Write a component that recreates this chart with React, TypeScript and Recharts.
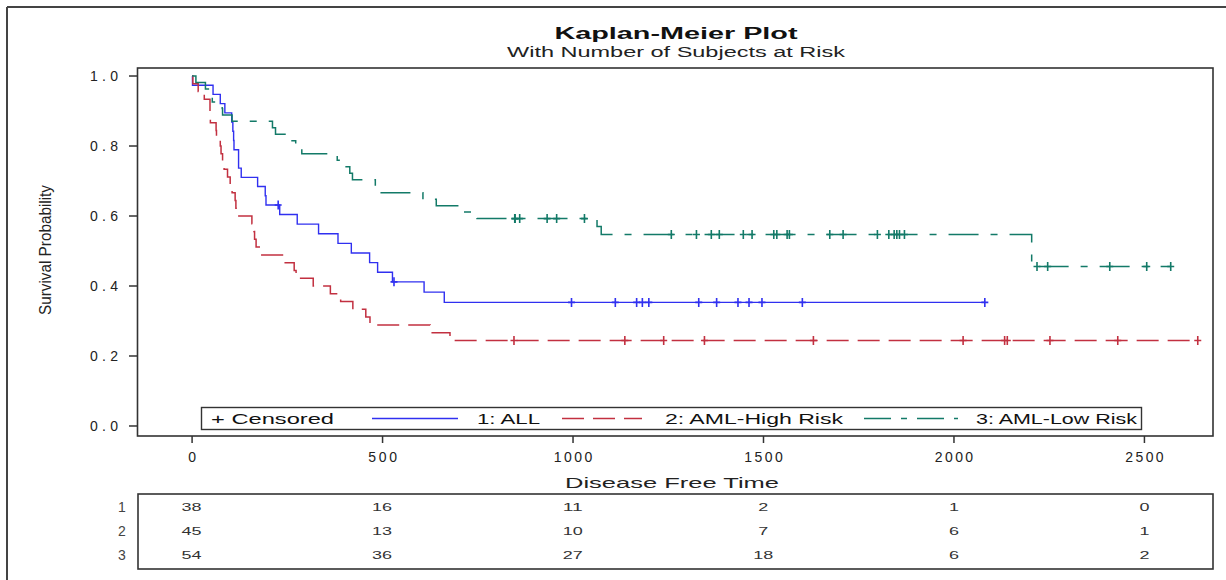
import React from 'react';
import { ComposedChart, Line, Scatter, XAxis, YAxis } from 'recharts';

// product-limit estimates, one step per event time
const allTimes = [0, 1, 55, 74, 86, 104, 107, 109, 110, 122, 129, 172, 192, 194, 230, 276, 332, 383, 418, 466, 487, 526, 609, 662, 2081];
const allSurv = [1, 0.9737, 0.9474, 0.9211, 0.8947, 0.8684, 0.8421, 0.8158, 0.7895, 0.7368, 0.7105, 0.6842, 0.6579, 0.6316, 0.6041, 0.5767, 0.5492, 0.5217, 0.4943, 0.4668, 0.4394, 0.4119, 0.3825, 0.3531, 0.3531];

const highTimes = [0, 2, 16, 32, 47, 48, 63, 64, 74, 76, 80, 84, 93, 100, 105, 113, 115, 120, 157, 162, 164, 168, 183, 242, 268, 273, 318, 363, 390, 422, 456, 467, 625, 677, 2640];
const highSurv = [1, 0.9778, 0.9556, 0.9333, 0.8889, 0.8667, 0.8444, 0.8222, 0.8, 0.7778, 0.7556, 0.7333, 0.7111, 0.6889, 0.6667, 0.6444, 0.6222, 0.6, 0.5778, 0.5556, 0.5333, 0.5111, 0.4889, 0.4667, 0.4444, 0.4222, 0.4, 0.3778, 0.3556, 0.3333, 0.3111, 0.2889, 0.2667, 0.2444, 0.2444];

const lowTimes = [0, 10, 35, 48, 53, 79, 80, 105, 211, 219, 248, 272, 288, 381, 390, 414, 421, 481, 486, 606, 641, 704, 748, 1063, 1074, 2204, 2569];
const lowSurv = [1, 0.9815, 0.963, 0.9444, 0.9259, 0.9074, 0.8889, 0.8704, 0.8519, 0.8333, 0.8148, 0.7963, 0.7778, 0.7593, 0.7407, 0.7222, 0.7037, 0.6852, 0.6667, 0.6481, 0.6296, 0.6111, 0.5926, 0.5698, 0.547, 0.4558, 0.4558];

// censored observations
const allCensT = [226, 530, 996, 1111, 1167, 1182, 1199, 1330, 1377, 1433, 1462, 1496, 1602, 2081];
const allCensS = [0.6316, 0.4119, 0.3531, 0.3531, 0.3531, 0.3531, 0.3531, 0.3531, 0.3531, 0.3531, 0.3531, 0.3531, 0.3531, 0.3531];
const highCensT = [845, 1136, 1238, 1345, 1631, 2024, 2133, 2140, 2252, 2430, 2640];
const highCensS = [0.2444, 0.2444, 0.2444, 0.2444, 0.2444, 0.2444, 0.2444, 0.2444, 0.2444, 0.2444, 0.2444];
const lowCensT = [847, 848, 860, 932, 957, 1030, 1258, 1324, 1363, 1384, 1447, 1470, 1527, 1535, 1562, 1568, 1674, 1709, 1799, 1829, 1843, 1850, 1857, 1870, 2218, 2246, 2409, 2506, 2569];
const lowCensS = [0.5926, 0.5926, 0.5926, 0.5926, 0.5926, 0.5926, 0.547, 0.547, 0.547, 0.547, 0.547, 0.547, 0.547, 0.547, 0.547, 0.547, 0.547, 0.547, 0.547, 0.547, 0.547, 0.547, 0.547, 0.547, 0.4558, 0.4558, 0.4558, 0.4558, 0.4558];

// number at risk table
const riskTimes = [0, 500, 1000, 1500, 2000, 2500];
const riskAll = [38, 16, 11, 2, 1, 0];
const riskHigh = [45, 13, 10, 7, 6, 1];
const riskLow = [54, 36, 27, 18, 6, 2];

const xTicks = [0, 500, 1000, 1500, 2000, 2500];
const yTicks = [0, 0.2, 0.4, 0.6, 0.8, 1.0];

const BLUE = '#3030f0';
const RED = '#c23040';
const GREEN = '#137a68';
const FONT = '"Liberation Sans", Arial, sans-serif';

const zip = (t: number[], s: number[]) => t.map((v, i) => ({ t: v, s: s[i] }));

const allData = zip(allTimes, allSurv);
const highData = zip(highTimes, highSurv);
const lowData = zip(lowTimes, lowSurv);
const allCens = zip(allCensT, allCensS);
const highCens = zip(highCensT, highCensS);
const lowCens = zip(lowCensT, lowCensS);

// x pixel for table text, same mapping as the x axis
const X0 = 191.5;
const PX = 0.3812;
const tx = (t: number) => X0 + t * PX;

const plus = (color: string) => (p: any) => (
  <path
    d={`M${p.cx - 3.5},${p.cy}h7M${p.cx},${p.cy - 4.5}v9`}
    stroke={color}
    strokeWidth={1.6}
    fill="none"
  />
);

const XTick = (p: any) => {
  const s = String(p.payload.value);
  return (
    <text x={p.x} y={p.y} dy="0.71em" textAnchor="middle" fontSize={14} fill="#222"
      fontFamily={FONT} textLength={s.length * 9.6} lengthAdjust="spacing">
      {s}
    </text>
  );
};

const YTick = (p: any) => {
  const s = Number(p.payload.value).toFixed(1);
  return (
    <text x={p.x} y={p.y} dy="0.36em" textAnchor="end" fontSize={14} fill="#222"
      fontFamily={FONT} textLength={s.length * 9.3} lengthAdjust="spacing">
      {s}
    </text>
  );
};

const App: React.FC = () => {
  const rows = [riskAll, riskHigh, riskLow];
  return (
    <div style={{ position: 'relative', width: 1226, height: 580, background: '#fff' }}>
      <style>{'body{margin:0}'}</style>
      <ComposedChart
        width={1226}
        height={580}
        margin={{ top: 68, right: 13, left: 0, bottom: 104 }}
      >
        <XAxis
          type="number"
          dataKey="t"
          domain={[-142, 2680]}
          ticks={xTicks}
          allowDataOverflow
          axisLine={false}
          tickLine={{ stroke: '#333', strokeWidth: 1.5 }}
          tickSize={7}
          tickMargin={9}
          height={40}
          tick={<XTick />}
        />
        <YAxis
          type="number"
          dataKey="s"
          domain={[-0.0286, 1.0229]}
          ticks={yTicks}
          allowDataOverflow
          axisLine={false}
          tickLine={{ stroke: '#333', strokeWidth: 1.5 }}
          tickSize={9}
          tickMargin={11}
          width={138}
          tick={<YTick />}
        />
        <Line data={allData} dataKey="s" type="stepAfter" stroke={BLUE} strokeWidth={1.4}
          dot={false} isAnimationActive={false} />
        <Line data={highData} dataKey="s" type="stepAfter" stroke={RED} strokeWidth={1.5}
          strokeDasharray="22 9" dot={false} isAnimationActive={false} />
        <Line data={lowData} dataKey="s" type="stepAfter" stroke={GREEN} strokeWidth={1.5}
          strokeDasharray="30 12 7 12" dot={false} isAnimationActive={false} />
        <Scatter data={allCens} dataKey="s" shape={plus(BLUE)} isAnimationActive={false} />
        <Scatter data={highCens} dataKey="s" shape={plus(RED)} isAnimationActive={false} />
        <Scatter data={lowCens} dataKey="s" shape={plus(GREEN)} isAnimationActive={false} />
      </ComposedChart>

      <svg width={1226} height={580} style={{ position: 'absolute', left: 0, top: 0, pointerEvents: 'none' }}
        fontFamily={FONT}>
        {/* outer page frame */}
        <line x1={7} y1={7} x2={1226} y2={7} stroke="#444" strokeWidth={2} />
        <line x1={7} y1={7} x2={7} y2={580} stroke="#444" strokeWidth={2} />

        <text x={676} y={39} textAnchor="middle" fontSize={16} fontWeight="bold" fill="#111"
          textLength={243} lengthAdjust="spacingAndGlyphs">Kaplan-Meier Plot</text>
        <text x={676} y={57} textAnchor="middle" fontSize={14} fill="#222"
          textLength={338} lengthAdjust="spacingAndGlyphs">With Number of Subjects at Risk</text>

        {/* plot frame */}
        <rect x={137.5} y={68} width={1075.5} height={368} fill="none" stroke="#333" strokeWidth={1.6} />

        <text transform="translate(51,250) rotate(-90)" textAnchor="middle" fontSize={17} fill="#222"
          textLength={130} lengthAdjust="spacingAndGlyphs">Survival Probability</text>

        {/* legend */}
        <rect x={201.5} y={407.5} width={940} height={22} fill="#fff" stroke="#333" strokeWidth={1.4} />
        <text x={211} y={424} fontSize={15} fill="#111" textLength={123} lengthAdjust="spacingAndGlyphs">+ Censored</text>
        <line x1={372} y1={418.5} x2={458} y2={418.5} stroke={BLUE} strokeWidth={1.4} />
        <text x={477} y={424} fontSize={15} fill="#111" textLength={63} lengthAdjust="spacingAndGlyphs">1: ALL</text>
        <line x1={562} y1={418.5} x2={642} y2={418.5} stroke={RED} strokeWidth={1.5} strokeDasharray="22 9" />
        <text x={665} y={424} fontSize={15} fill="#111" textLength={178} lengthAdjust="spacingAndGlyphs">2: AML-High Risk</text>
        <line x1={864} y1={418.5} x2={958} y2={418.5} stroke={GREEN} strokeWidth={1.5} strokeDasharray="27 10 6 10" />
        <text x={976} y={424} fontSize={15} fill="#111" textLength={161} lengthAdjust="spacingAndGlyphs">3: AML-Low Risk</text>

        <text x={672} y={488} textAnchor="middle" fontSize={15} fill="#222"
          textLength={214} lengthAdjust="spacingAndGlyphs">Disease Free Time</text>

        {/* at-risk table */}
        <rect x={138} y={494} width={1075} height={75} fill="none" stroke="#333" strokeWidth={1.6} />
        {rows.map((r, i) => (
          <g key={i}>
            <text x={122} y={512 + i * 24} textAnchor="middle" fontSize={14} fill="#444">{i + 1}</text>
            {r.map((v, j) => (
              <text key={j} x={tx(riskTimes[j])} y={511 + i * 24} textAnchor="middle" fontSize={11}
                fill="#333" textLength={String(v).length * 10} lengthAdjust="spacingAndGlyphs">{v}</text>
            ))}
          </g>
        ))}
      </svg>
    </div>
  );
};

export default App;
